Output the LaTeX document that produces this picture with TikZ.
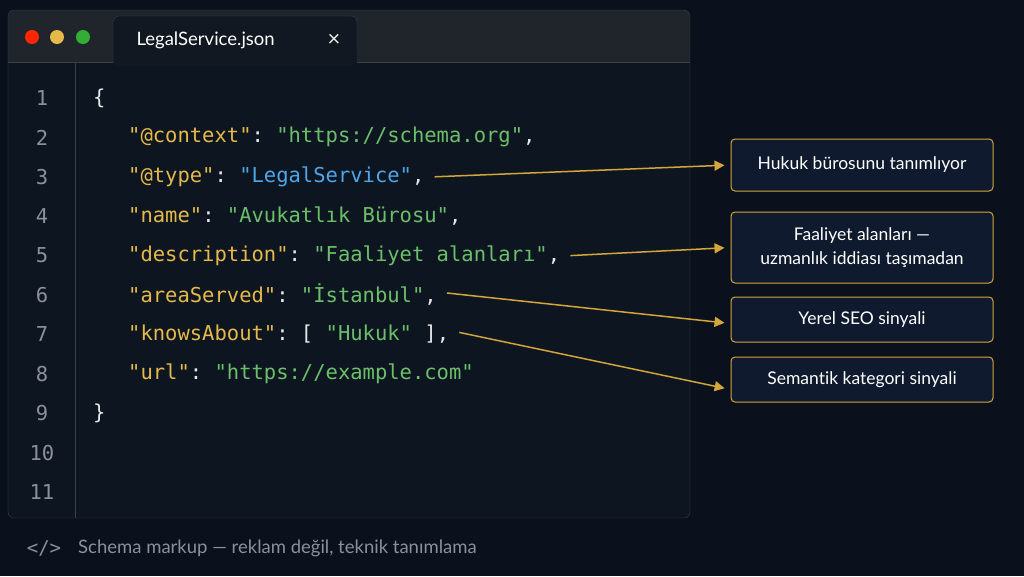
\documentclass[tikz,border=0pt]{standalone}
\usepackage{fontspec}
\setmainfont{Lato}[Ligatures=NoCommon]
\setmonofont{DejaVu Sans Mono}
\usetikzlibrary{arrows.meta, positioning}
\definecolor{pagebg}{HTML}{0B111C}
\definecolor{winbg}{HTML}{0D1520}
\definecolor{barbg}{HTML}{20252C}
\definecolor{tabbg}{HTML}{111821}
\definecolor{edge}{HTML}{3A4048}
\definecolor{keycol}{HTML}{E5B94A}
\definecolor{strcol}{HTML}{6CBF6A}
\definecolor{typecol}{HTML}{4EA6EA}
\definecolor{punct}{HTML}{E8E8E8}
\definecolor{numcol}{HTML}{8A919C}
\definecolor{gold}{HTML}{D4A53A}
\definecolor{boxbg}{HTML}{0F1A2E}
\newcommand{\jkey}[1]{\textcolor{keycol}{"#1"}}
\newcommand{\jstr}[1]{\textcolor{strcol}{"#1"}}
\begin{document}
\begin{tikzpicture}[x=1pt, y=-1pt,
        code/.style = {
            anchor=west,
            inner sep=0pt,
            font=\fontsize{20.5}{24}\ttfamily,
            text=punct
        },
        lnum/.style = {
            inner sep=0pt,
            font=\fontsize{20.5}{24}\ttfamily,
            text=numcol
        },
        note/.style = {
            rectangle,
            draw=gold,
            line width=1pt,
            fill=boxbg,
            rounded corners=4pt,
            minimum width=262pt,
            align=center,
            text=white,
            font=\fontsize{17.5}{24}\selectfont
        },
        pointer/.style = {
            draw=gold,
            line width=1.5pt,
            -{Triangle[length=10pt, width=10pt]},
            shorten >=6pt
        }
    ]
    \fill[pagebg] (0,0) rectangle (1024,576);
    \useasboundingbox (0,0) rectangle (1024,576);

    % window
    \fill[winbg, rounded corners=6pt] (8,10) rectangle (690,518);
    \fill[barbg, rounded corners=6pt] (8,10) rectangle (690,62);
    \fill[barbg] (8,40) rectangle (690,62);
    \draw[edge, rounded corners=6pt] (8,10) rectangle (690,518);
    \draw[edge] (8,62) -- (690,62);
    \fill[tabbg, rounded corners=6pt] (113,16) rectangle (357,66);
    \draw[edge, rounded corners=6pt] (113,62) -- (113,16) -- (357,16) -- (357,62);
    \fill[tabbg] (113.5,50) rectangle (356.5,63);
    \fill[red!70!orange] (32,37) circle (7);
    \fill[keycol] (57,37) circle (7);
    \fill[green!60!black!80!white] (83,37) circle (7);
    \node (tab) [anchor=west, text=white, font=\fontsize{18.5}{20}\selectfont] at (133,40) {LegalService.json};
    \node (close) [text=punct!80, font=\fontsize{22}{22}\selectfont] at (334,40) {×};
    \draw[edge] (75,62) -- (75,518);

    % line numbers
    \foreach \n in {1,...,11}
        \node (n\n) [lnum] at (42,{98+39.4*(\n-1)}) {\n};

    % code
    \node (l1) [code] at (93,98) {\{};
    \node (l2) [code] at (128,137.4) {\jkey{@context}: \jstr{https://schema.org},};
    \node (l3) [code] at (128,176.8) {\jkey{@type}: \textcolor{typecol}{"LegalService"},};
    \node (l4) [code] at (128,216.2) {\jkey{name}: \jstr{Avukatlık Bürosu},};
    \node (l5) [code] at (128,255.6) {\jkey{description}: \jstr{Faaliyet alanları},};
    \node (l6) [code] at (128,295) {\jkey{areaServed}: \jstr{İstanbul},};
    \node (l7) [code] at (128,334.4) {\jkey{knowsAbout}: [ \jstr{Hukuk} ],};
    \node (l8) [code] at (128,373.8) {\jkey{url}: \jstr{https://example.com}};
    \node (l9) [code] at (93,413.2) {\}};

    % notes
    \node (typeNote) [note, minimum height=52pt] at (862,165) {Hukuk bürosunu tanımlıyor};
    \node (descNote) [note, minimum height=71pt] at (862,247.5) {Faaliyet alanları —\\uzmanlık iddiası taşımadan};
    \node (areaNote) [note, minimum height=45pt] at (862,319.5) {Yerel SEO sinyali};
    \node (knowNote) [note, minimum height=45pt] at (862,379.5) {Semantik kategori sinyali};

    \draw[pointer] ([xshift=10pt]l3.east) -- (typeNote.west);
    \draw[pointer] ([xshift=10pt]l5.east) -- (descNote.west);
    \draw[pointer] ([xshift=10pt, yshift=2pt]l6.east) -- ([yshift=-4pt]areaNote.west);
    \draw[pointer] ([xshift=10pt, yshift=2pt]l7.east) -- ([yshift=-10pt]knowNote.west);

    % footer
    \node (tag) [text=numcol, font=\fontsize{19}{20}\ttfamily] at (44,548) {</>};
    \node (caption) [anchor=west, text=numcol, font=\fontsize{18.5}{20}\selectfont, right=10pt of tag] {Schema markup — reklam değil, teknik tanımlama};
\end{tikzpicture}
\end{document}
